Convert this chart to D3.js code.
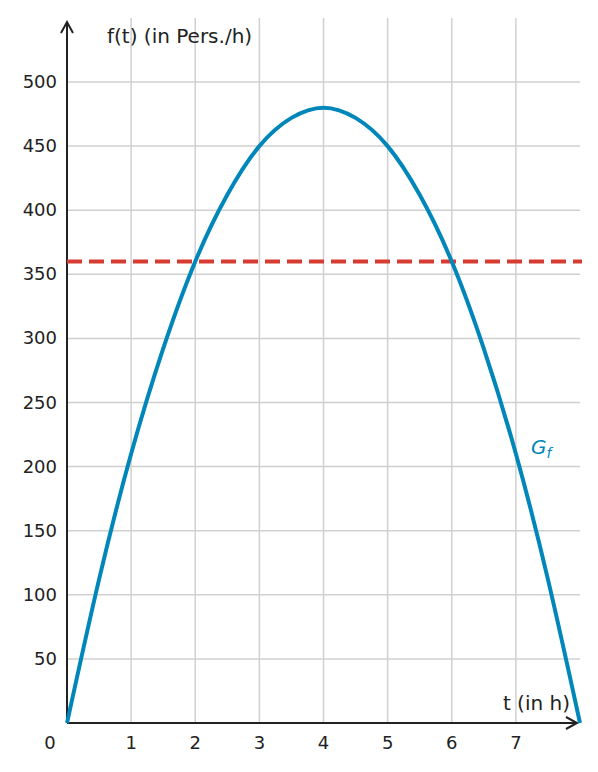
<!DOCTYPE html>
<html><head><meta charset="utf-8">
<script src="https://cdn.jsdelivr.net/npm/d3@7"></script>
<style>body{margin:0;background:#fff}svg{font-family:"DejaVu Sans",sans-serif}</style>
</head><body><svg id="chart" width="598" height="772"></svg>
<script>
// values
const tValues = [0, 0.5, 1, 1.5, 2, 2.5, 3, 3.5, 4, 4.5, 5, 5.5, 6, 6.5, 7, 7.5, 8];
const fValues = [0, 112, 210, 292, 360, 412, 450, 472, 480, 472, 450, 412, 360, 292, 210, 112, 0];
const xTicks = [1, 2, 3, 4, 5, 6, 7];
const yTicks = [50, 100, 150, 200, 250, 300, 350, 400, 450, 500];
const threshold = 360;

const svg = d3.select("#chart");
const x = d3.scaleLinear().domain([0, 8]).range([67, 580]);
const y = d3.scaleLinear().domain([0, 500]).range([723, 82]);

// grid
svg.selectAll(".vg").data(xTicks).enter().append("line")
    .attr("x1", d => x(d)).attr("x2", d => x(d))
    .attr("y1", 18).attr("y2", 723)
    .attr("stroke", "#d0d0d0").attr("stroke-width", 1.5);
svg.selectAll(".hg").data(yTicks).enter().append("line")
    .attr("x1", 67).attr("x2", 580)
    .attr("y1", d => y(d)).attr("y2", d => y(d))
    .attr("stroke", "#d0d0d0").attr("stroke-width", 1.5);

// tick labels
svg.selectAll(".xl").data(xTicks).enter().append("text")
    .attr("x", d => x(d)).attr("y", 749).attr("text-anchor", "middle")
    .attr("font-size", 18).attr("fill", "#222").text(d => d);
svg.selectAll(".yl").data(yTicks).enter().append("text")
    .attr("x", 57).attr("y", d => y(d) + 6).attr("text-anchor", "end")
    .attr("font-size", 18).attr("fill", "#222").text(d => d);
svg.append("text").attr("x", 50).attr("y", 749).attr("text-anchor", "middle")
    .attr("font-size", 18).attr("fill", "#222").text("0");

// axes with arrows
svg.append("line").attr("x1", 67).attr("x2", 67).attr("y1", 723).attr("y2", 22)
    .attr("stroke", "#222").attr("stroke-width", 2);
svg.append("line").attr("x1", 67).attr("x2", 576).attr("y1", 723).attr("y2", 723)
    .attr("stroke", "#222").attr("stroke-width", 2);
svg.append("path").attr("d", "M61,33 L67,22 L73,33").attr("fill", "none")
    .attr("stroke", "#222").attr("stroke-width", 2);
svg.append("path").attr("d", "M566,717 L577,723 L566,729").attr("fill", "none")
    .attr("stroke", "#222").attr("stroke-width", 2);

svg.append("text").attr("x", 107).attr("y", 43).attr("font-size", 20)
    .attr("fill", "#222").text("f(t) (in Pers./h)");
svg.append("text").attr("x", 570).attr("y", 710).attr("text-anchor", "end")
    .attr("font-size", 20).attr("fill", "#222").text("t (in h)");

// threshold
svg.append("line").attr("x1", 67).attr("x2", 582)
    .attr("y1", y(threshold)).attr("y2", y(threshold))
    .attr("stroke", "#d63c31").attr("stroke-width", 4).attr("stroke-dasharray", "15,7");

// curve
const line = d3.line().x((d, i) => x(tValues[i])).y(d => y(d)).curve(d3.curveNatural);
svg.append("path").datum(fValues).attr("d", line).attr("fill", "none")
    .attr("stroke", "#0086b9").attr("stroke-width", 4);

const g = svg.append("text").attr("x", 531).attr("y", 454).attr("font-size", 20)
    .attr("fill", "#0086b9").attr("font-style", "italic");
g.append("tspan").text("G");
g.append("tspan").attr("font-size", 14).attr("dy", 4).text("f");
</script></body></html>
